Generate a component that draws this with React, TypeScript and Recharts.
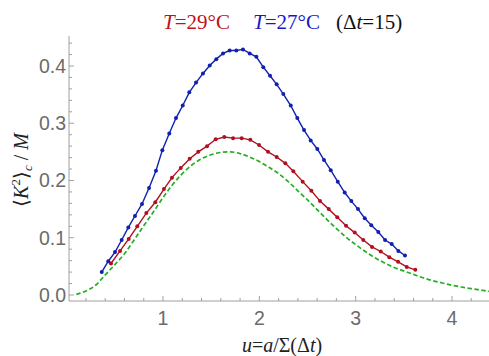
import React from 'react';
import { LineChart, Line, XAxis, YAxis } from 'recharts';

// theory curve (green dashed)
const greenU = [0.1, 0.2, 0.3, 0.4, 0.5, 0.6, 0.7, 0.8, 0.9, 1.0, 1.1, 1.2, 1.3, 1.4, 1.5, 1.6, 1.7, 1.8, 1.9, 2.0, 2.1, 2.2, 2.3, 2.4, 2.5, 2.6, 2.7, 2.8, 2.9, 3.0, 3.1, 3.2, 3.3, 3.4, 3.5, 3.6, 3.7, 3.8, 3.9, 4.0, 4.1, 4.2, 4.3, 4.4];
const greenV = [0.001, 0.007, 0.017, 0.035, 0.053, 0.072, 0.096, 0.121, 0.145, 0.170, 0.193, 0.212, 0.227, 0.238, 0.245, 0.249, 0.250, 0.247, 0.241, 0.233, 0.223, 0.212, 0.198, 0.182, 0.166, 0.149, 0.132, 0.116, 0.101, 0.088, 0.076, 0.065, 0.056, 0.048, 0.042, 0.036, 0.030, 0.025, 0.021, 0.017, 0.014, 0.011, 0.0085, 0.006];

// T = 27°C (blue)
const blueU = [0.364, 0.432, 0.502, 0.571, 0.640, 0.709, 0.782, 0.855, 0.927, 0.993, 1.065, 1.135, 1.205, 1.273, 1.343, 1.415, 1.485, 1.553, 1.623, 1.692, 1.761, 1.830, 1.900, 1.969, 2.041, 2.111, 2.180, 2.249, 2.326, 2.394, 2.464, 2.533, 2.602, 2.671, 2.741, 2.814, 2.886, 2.955, 3.024, 3.094, 3.162, 3.235, 3.305, 3.374, 3.443, 3.512];
const blueV = [0.040, 0.059, 0.075, 0.096, 0.118, 0.138, 0.159, 0.187, 0.217, 0.253, 0.282, 0.309, 0.331, 0.354, 0.371, 0.387, 0.401, 0.412, 0.422, 0.427, 0.427, 0.429, 0.422, 0.416, 0.398, 0.383, 0.368, 0.351, 0.331, 0.309, 0.288, 0.270, 0.255, 0.236, 0.218, 0.198, 0.179, 0.164, 0.150, 0.134, 0.122, 0.110, 0.096, 0.089, 0.077, 0.069];

// T = 29°C (red)
const redU = [0.460, 0.554, 0.644, 0.733, 0.827, 0.920, 1.010, 1.093, 1.184, 1.277, 1.366, 1.457, 1.547, 1.636, 1.727, 1.817, 1.906, 1.997, 2.090, 2.180, 2.270, 2.353, 2.450, 2.540, 2.630, 2.720, 2.809, 2.900, 2.990, 3.079, 3.170, 3.260, 3.349, 3.440, 3.530, 3.619];
const redV = [0.055, 0.077, 0.098, 0.120, 0.143, 0.162, 0.185, 0.205, 0.222, 0.238, 0.250, 0.260, 0.272, 0.276, 0.274, 0.274, 0.271, 0.262, 0.250, 0.241, 0.230, 0.216, 0.198, 0.182, 0.164, 0.150, 0.136, 0.121, 0.109, 0.096, 0.084, 0.076, 0.066, 0.058, 0.049, 0.044];

const xMajor = [1, 2, 3, 4];
const xMinor = [0.2, 0.4, 0.6, 0.8, 1.2, 1.4, 1.6, 1.8, 2.2, 2.4, 2.6, 2.8, 3.2, 3.4, 3.6, 3.8, 4.2];
const yMajor = [0, 0.1, 0.2, 0.3, 0.4];
const yMinor = [0.02, 0.04, 0.06, 0.08, 0.12, 0.14, 0.16, 0.18, 0.22, 0.24, 0.26, 0.28, 0.32, 0.34, 0.36, 0.38, 0.42, 0.44];

const toPoints = (us: number[], vs: number[]) => us.map((u, i) => ({ u, v: vs[i] }));
const greenData = toPoints(greenU, greenV);
const blueData = toPoints(blueU, blueV);
const redData = toPoints(redU, redV);

const frame = '#a0a0a0';
const labelGray = '#6b6b6b';
const redLine = '#b01020';
const blueLine = '#1020b0';
const sans = '"Liberation Sans", Arial, sans-serif';
const serif = '"Liberation Serif", "Times New Roman", serif';

const BottomTick = (props: any) => {
  const { x, y, payload } = props;
  const major = xMajor.includes(payload.value);
  return (
    <g>
      <line x1={x} x2={x} y1={y} y2={y - (major ? 5 : 3)} stroke={frame} />
      {major && (
        <text x={x} y={y + 24} textAnchor="middle" fill={labelGray} fontSize={19.5} fontFamily={sans}>
          {payload.value}
        </text>
      )}
    </g>
  );
};

const TopTick = (props: any) => {
  const { x, y, payload } = props;
  const major = xMajor.includes(payload.value);
  return <line x1={x} x2={x} y1={y} y2={y + (major ? 5 : 3)} stroke={frame} />;
};

const LeftTick = (props: any) => {
  const { x, y, payload } = props;
  const major = yMajor.includes(payload.value);
  return (
    <g>
      <line x1={x} x2={x + (major ? 5 : 3)} y1={y} y2={y} stroke={frame} />
      {major && (
        <text x={x - 3} y={y + 7} textAnchor="end" fill={labelGray} fontSize={19.5} fontFamily={sans}>
          {payload.value.toFixed(1)}
        </text>
      )}
    </g>
  );
};

const xTicks = [...xMajor, ...xMinor].sort((a, b) => a - b);
const yTicks = [...yMajor, ...yMinor].sort((a, b) => a - b);

export default function App() {
  return (
    <div style={{ position: 'absolute', left: 0, top: 0, width: 489, height: 356, background: '#fff' }}>
      <LineChart width={489} height={356} margin={{ top: 36, right: 0, bottom: 0, left: 0 }}>
        <XAxis
          dataKey="u"
          type="number"
          domain={[0.0242, 4.384]}
          allowDataOverflow
          ticks={xTicks}
          interval={0}
          height={55}
          tickSize={0}
          tickMargin={0}
          tickLine={false}
          axisLine={{ stroke: frame }}
          tick={<BottomTick />}
        />
        <XAxis
          xAxisId="top"
          orientation="top"
          dataKey="u"
          type="number"
          domain={[0.0242, 4.384]}
          allowDataOverflow
          ticks={xTicks}
          interval={0}
          height={0}
          tickSize={0}
          tickMargin={0}
          tickLine={false}
          axisLine={{ stroke: frame }}
          tick={<TopTick />}
        />
        <YAxis
          type="number"
          domain={[-0.0105, 0.4524]}
          allowDataOverflow
          ticks={yTicks}
          interval={0}
          width={69}
          tickSize={0}
          tickMargin={0}
          tickLine={false}
          axisLine={{ stroke: frame }}
          tick={<LeftTick />}
        />
        <Line
          data={greenData}
          dataKey="v"
          type="monotone"
          stroke="#22b022"
          strokeWidth={1.7}
          strokeDasharray="4.5 2.5"
          dot={false}
          isAnimationActive={false}
        />
        <Line
          data={redData}
          dataKey="v"
          type="linear"
          stroke={redLine}
          strokeWidth={1.4}
          dot={{ r: 2, fill: redLine, stroke: 'none' }}
          isAnimationActive={false}
        />
        <Line
          data={blueData}
          dataKey="v"
          type="linear"
          stroke={blueLine}
          strokeWidth={1.4}
          dot={{ r: 2, fill: blueLine, stroke: 'none' }}
          isAnimationActive={false}
        />
      </LineChart>
      <svg width={489} height={356} style={{ position: 'absolute', left: 0, top: 0, pointerEvents: 'none' }}>
        <g fontFamily={serif} fontSize={21}>
          <text x={163} y={29} fill="#c0101a">
            <tspan fontStyle="italic">T</tspan>=29°C
          </text>
          <text x={253} y={29} fill="#1818cc">
            <tspan fontStyle="italic">T</tspan>=27°C
          </text>
          <text x={336} y={29} fill="#111">
            (Δ<tspan fontStyle="italic">t</tspan>=15)
          </text>
        </g>
        <text x={282} y={352} textAnchor="middle" fontFamily={serif} fontSize={20} fill="#222">
          <tspan fontStyle="italic">u</tspan>=<tspan fontStyle="italic">a</tspan>/Σ(Δ<tspan fontStyle="italic">t</tspan>)
        </text>
        <text
          x={28}
          y={170}
          transform="rotate(-90 28 170)"
          textAnchor="middle"
          fontFamily={serif}
          fontSize={20}
          fill="#222"
        >
          ⟨<tspan fontStyle="italic">K</tspan>
          <tspan fontSize={13} dy={-8}>2</tspan>
          <tspan dy={8}>⟩</tspan>
          <tspan fontSize={13} fontStyle="italic" dy={4}>c</tspan>
          <tspan dy={-4}> / </tspan>
          <tspan fontStyle="italic">M</tspan>
        </text>
      </svg>
    </div>
  );
}
